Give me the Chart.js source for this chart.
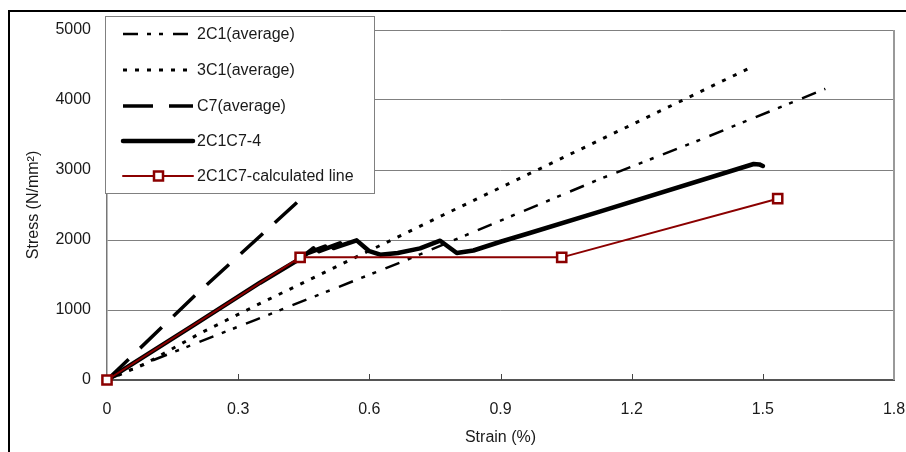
<!DOCTYPE html>
<html>
<head>
<meta charset="utf-8">
<script src="https://cdn.jsdelivr.net/npm/chart.js@4"></script>
<style>
  html, body { margin: 0; padding: 0; background: #fff; }
  #wrap { width: 906px; height: 452px; position: relative; }
</style>
</head>
<body>
<div id="wrap"><canvas id="stressChart" width="906" height="452"></canvas></div>
<script>
// strain (%) / stress (N/mm2) pairs
const strain2C1 = [0, 0.1, 0.34, 0.685, 1.127, 1.356, 1.643];
const stress2C1 = [0, 270, 860, 1714, 2870, 3430, 4160];

const strain3C1 = [0, 0.084, 0.213, 0.343, 0.769, 1.127, 1.476];
const stress3C1 = [0, 220, 667, 1071, 2357, 3428, 4476];

const strainC7 = [0, 0.2, 0.5];
const stressC7 = [0, 1200, 2910];

const strain2C1C7 = [0, 0.2, 0.35, 0.445, 0.472, 0.462, 0.499, 0.485, 0.533, 0.518, 0.571, 0.6, 0.625, 0.665, 0.716, 0.762, 0.8, 0.838, 0.9, 0.967, 1.127, 1.479, 1.492, 1.5];
const stress2C1C7 = [0, 790, 1390, 1745, 1880, 1820, 1905, 1840, 1952, 1885, 1995, 1840, 1790, 1815, 1880, 1990, 1815, 1850, 1975, 2100, 2405, 3086, 3080, 3057];

const strainCalc = [0, 0.4417, 1.04, 1.534];
const stressCalc = [0, 1752, 1752, 2590];

const xTicks = [0, 0.3, 0.6, 0.9, 1.2, 1.5, 1.8];
const yTicks = [0, 1000, 2000, 3000, 4000, 5000];

const FONT = '"Liberation Sans", Arial, sans-serif';
const RED = '#8b0000';

function pts(xs, ys) {
    return xs.map((x, i) => ({ x: x, y: ys[i] }));
}

const seriesStyles = [
    { label: '2C1(average)', data: pts(strain2C1, stress2C1), color: '#000', width: 2.5, dash: [15, 9, 4, 8, 4, 10] },
    { label: '3C1(average)', data: pts(strain3C1, stress3C1), color: '#000', width: 3, dash: [4, 8] },
    { label: 'C7(average)', data: pts(strainC7, stressC7), color: '#000', width: 3.5, dash: [30, 16] },
    { label: '2C1C7-4', data: pts(strain2C1C7, stress2C1C7), color: '#000', width: 4.5, dash: [] },
    { label: '2C1C7-calculated line', data: pts(strainCalc, stressCalc), color: RED, width: 2, dash: [], marker: true }
];

// later series are painted over earlier ones, as in the original
const datasets = seriesStyles.map((s, i) => ({
    label: s.label,
    data: s.data,
    order: seriesStyles.length - i,
    clip: s.marker ? false : undefined,
    showLine: true,
    borderColor: s.color,
    borderWidth: s.width,
    borderDash: s.dash,
    borderCapStyle: s.dash.length ? 'butt' : 'round',
    borderJoinStyle: 'round',
    tension: 0,
    pointStyle: 'rect',
    pointRadius: s.marker ? 6.5 : 0,
    pointBorderWidth: s.marker ? 2.5 : 0,
    pointBorderColor: RED,
    pointBackgroundColor: '#fff',
    pointHoverRadius: s.marker ? 6.5 : 0
}));

// outer frame, plot border, inward x ticks and the boxed legend
const decorPlugin = {
    id: 'decor',
    beforeDraw(chart) {
        const c = chart.ctx;
        c.save();
        c.fillStyle = '#fff';
        c.fillRect(0, 0, chart.width, chart.height);
        c.strokeStyle = '#000';
        c.lineWidth = 2;
        c.beginPath();
        c.moveTo(9, chart.height);
        c.lineTo(9, 11);
        c.lineTo(chart.width, 11);
        c.stroke();
        c.restore();
    },
    beforeDatasetsDraw(chart) {
        const c = chart.ctx;
        const a = chart.chartArea;
        const xs = chart.scales.x;
        c.save();
        c.strokeStyle = '#999';
        c.lineWidth = 2;
        c.beginPath();
        c.moveTo(a.right, a.top);
        c.lineTo(a.right, a.bottom);
        c.stroke();
        c.strokeStyle = '#444';
        c.lineWidth = 1;
        xTicks.slice(1, -1).forEach(v => {
            const px = Math.round(xs.getPixelForValue(v)) + 0.5;
            c.beginPath();
            c.moveTo(px, a.bottom);
            c.lineTo(px, a.bottom - 6);
            c.stroke();
        });
        c.restore();
    },
    afterDraw(chart) {
        const c = chart.ctx;
        c.save();
        c.fillStyle = '#fff';
        c.fillRect(105.5, 16.5, 269, 177);
        c.strokeStyle = '#808080';
        c.lineWidth = 1;
        c.strokeRect(105.5, 16.5, 269, 177);
        const rowY = [34, 70, 106, 141, 176];
        seriesStyles.forEach((s, i) => {
            const y = rowY[i];
            c.strokeStyle = s.color;
            c.lineWidth = s.width;
            c.setLineDash(s.dash);
            c.lineCap = s.dash.length ? 'butt' : 'round';
            c.beginPath();
            c.moveTo(123, y);
            c.lineTo(193, y);
            c.stroke();
            c.setLineDash([]);
            if (s.marker) {
                c.fillStyle = '#fff';
                c.strokeStyle = RED;
                c.lineWidth = 2.5;
                c.fillRect(154, y - 4.5, 9, 9);
                c.strokeRect(154, y - 4.5, 9, 9);
            }
            c.fillStyle = '#1a1a1a';
            c.font = '16px ' + FONT;
            c.textBaseline = 'middle';
            c.textAlign = 'left';
            c.fillText(s.label, 197, y + 1);
        });
        c.restore();
    }
};

new Chart(document.getElementById('stressChart'), {
    type: 'scatter',
    data: { datasets: datasets },
    plugins: [decorPlugin],
    options: {
        responsive: false,
        animation: false,
        layout: { padding: { left: 0, top: 30, right: 12, bottom: 0 } },
        plugins: {
            legend: { display: false },
            tooltip: { enabled: false }
        },
        scales: {
            x: {
                type: 'linear',
                min: 0,
                max: 1.8,
                afterFit: s => { s.height = 72; s.paddingLeft = 0; s.paddingRight = 0; },
                afterBuildTicks: s => { s.ticks = xTicks.map(v => ({ value: v })); },
                ticks: {
                    color: '#1a1a1a',
                    font: { family: FONT, size: 16 },
                    padding: 20,
                    maxRotation: 0,
                    callback: v => String(v)
                },
                grid: { display: false, drawTicks: false },
                border: { display: true, color: '#555', width: 2 },
                title: {
                    display: true,
                    text: 'Strain (%)',
                    color: '#1a1a1a',
                    font: { family: FONT, size: 16 },
                    padding: { top: 0, bottom: 5 }
                }
            },
            y: {
                type: 'linear',
                min: 0,
                max: 5000,
                afterFit: s => { s.width = 107; s.paddingTop = 0; s.paddingBottom = 0; },
                afterBuildTicks: s => { s.ticks = yTicks.map(v => ({ value: v })); },
                ticks: {
                    color: '#1a1a1a',
                    font: { family: FONT, size: 16 },
                    padding: 16,
                    callback: v => String(v)
                },
                grid: { color: '#808080', lineWidth: 1, drawTicks: false },
                border: { display: true, color: '#777', width: 1.5 },
                title: {
                    display: true,
                    text: 'Stress (N/mm²)',
                    color: '#1a1a1a',
                    font: { family: FONT, size: 16 },
                    padding: { top: 24, bottom: 0 }
                }
            }
        }
    }
});
</script>
</body>
</html>
